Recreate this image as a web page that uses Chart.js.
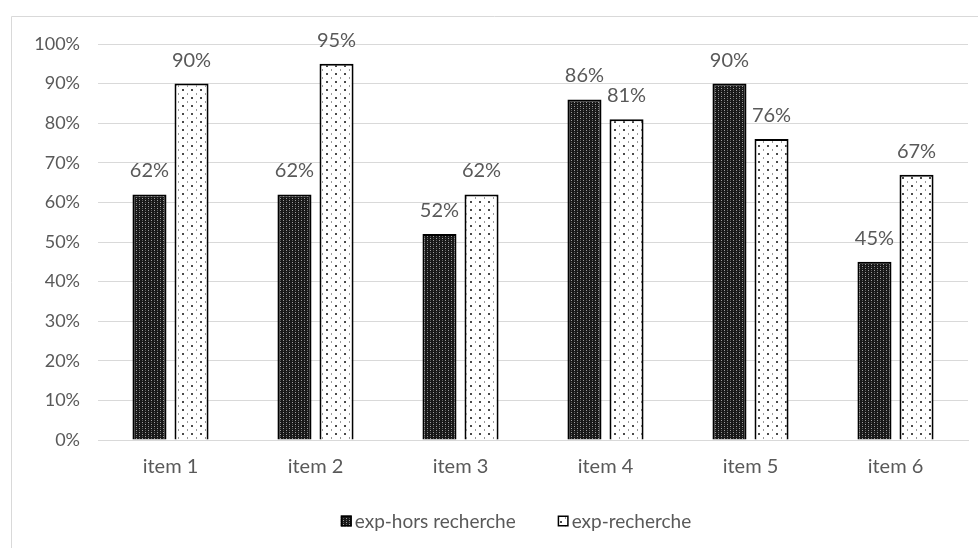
<!DOCTYPE html>
<html>
<head>
<meta charset="utf-8">
<script src="https://cdn.jsdelivr.net/npm/chart.js@4.4.1/dist/chart.umd.min.js"></script>
<style>
  html, body { margin: 0; padding: 0; background: #ffffff; }
  #wrap { position: relative; width: 978px; height: 548px; }
</style>
</head>
<body>
<div id="wrap"><canvas id="chart" width="978" height="548"></canvas></div>
<script>
// Survey results per item, in percent
const categories = ['item 1', 'item 2', 'item 3', 'item 4', 'item 5', 'item 6'];
const horsRecherche = [62, 62, 52, 86, 90, 45];
const recherche = [90, 95, 62, 81, 76, 67];
const seriesNames = ['exp-hors recherche', 'exp-recherche'];
const yTicks = [0, 10, 20, 30, 40, 50, 60, 70, 80, 90, 100];

const FONT = 'Lato, "Open Sans", sans-serif';
const TEXT = '#595959';

// Dense dark texture for the first series
function darkPattern() {
  const c = document.createElement('canvas');
  c.width = 6; c.height = 4;
  const g = c.getContext('2d');
  g.fillStyle = '#181818';
  g.fillRect(0, 0, 6, 4);
  g.fillStyle = '#a0a0a0';
  g.fillRect(1, 0, 1, 1);
  g.fillRect(4, 2, 1, 1);
  g.fillStyle = '#5a5a5a';
  g.fillRect(1, 2, 1, 1);
  g.fillRect(4, 0, 1, 1);
  return g.createPattern(c, 'repeat');
}

// Sparse dotted texture for the second series
function dotPattern() {
  const c = document.createElement('canvas');
  c.width = 9; c.height = 8;
  const g = c.getContext('2d');
  g.fillStyle = '#ffffff';
  g.fillRect(0, 0, 9, 8);
  g.fillStyle = '#4a4a4a';
  g.fillRect(2, 1, 2, 2);
  g.fillStyle = '#9a9a9a';
  g.fillRect(7, 5, 1, 2);
  return g.createPattern(c, 'repeat');
}

const fills = [darkPattern(), dotPattern()];

// Light frame around the whole figure
const framePlugin = {
  id: 'frame',
  beforeDraw(chart) {
    const ctx = chart.ctx;
    ctx.save();
    ctx.strokeStyle = '#d9d9d9';
    ctx.lineWidth = 1;
    ctx.beginPath();
    ctx.moveTo(11.5, chart.height);
    ctx.lineTo(11.5, 16.5);
    ctx.lineTo(chart.width, 16.5);
    ctx.stroke();
    ctx.restore();
  }
};

// Value labels above each bar
const valueLabels = {
  id: 'valueLabels',
  afterDatasetsDraw(chart) {
    const ctx = chart.ctx;
    ctx.save();
    ctx.font = '20px ' + FONT;
    ctx.fillStyle = TEXT;
    ctx.textAlign = 'center';
    ctx.textBaseline = 'alphabetic';
    chart.data.datasets.forEach((ds, i) => {
      chart.getDatasetMeta(i).data.forEach((bar, j) => {
        ctx.fillText(ds.data[j] + '%', bar.x, bar.y - 17);
      });
    });
    ctx.restore();
  }
};

// Legend row under the axis: swatch tight against its label
const legendRow = {
  id: 'legendRow',
  afterDraw(chart) {
    const ctx = chart.ctx;
    const box = 11, gap = 3, spacing = 42, cy = 521, centerX = 516;
    ctx.save();
    ctx.font = '19px ' + FONT;
    const widths = seriesNames.map(n => ctx.measureText(n).width);
    const total = widths.reduce((s, w) => s + box + gap + w, 0) + spacing * (seriesNames.length - 1);
    let x = centerX - total / 2;
    seriesNames.forEach((name, i) => {
      ctx.fillStyle = fills[i];
      ctx.fillRect(x, cy - box / 2, box, box);
      ctx.strokeStyle = '#000000';
      ctx.lineWidth = 1.5;
      ctx.strokeRect(x + 0.75, cy - box / 2 + 0.75, box - 1.5, box - 1.5);
      ctx.fillStyle = TEXT;
      ctx.textAlign = 'left';
      ctx.textBaseline = 'middle';
      ctx.fillText(name, x + box + gap, cy + 1);
      x += box + gap + widths[i] + spacing;
    });
    ctx.restore();
  }
};

new Chart(document.getElementById('chart'), {
  type: 'bar',
  data: {
    labels: categories,
    datasets: [
      {
        label: seriesNames[0],
        data: horsRecherche,
        backgroundColor: fills[0],
        borderColor: '#000000',
        borderWidth: 2,
        borderSkipped: 'start'
      },
      {
        label: seriesNames[1],
        data: recherche,
        backgroundColor: fills[1],
        borderColor: '#000000',
        borderWidth: 2,
        borderSkipped: 'start'
      }
    ]
  },
  options: {
    responsive: false,
    animation: false,
    devicePixelRatio: 1,
    categoryPercentage: 0.58,
    barPercentage: 0.81,
    layout: { padding: { left: 0, right: 10, top: 44, bottom: 54 } },
    plugins: {
      tooltip: { enabled: false },
      legend: { display: false }
    },
    scales: {
      x: {
        grid: { display: false, drawTicks: false },
        border: { display: true, color: '#d9d9d9', width: 1 },
        ticks: { color: TEXT, font: { family: FONT, size: 20 }, padding: 15 }
      },
      y: {
        min: 0,
        max: 100,
        afterFit(scale) { scale.width = 98; },
        afterBuildTicks(scale) { scale.ticks = yTicks.map(v => ({ value: v })); },
        grid: { color: '#d9d9d9', drawTicks: false },
        border: { display: false },
        ticks: {
          color: TEXT,
          font: { family: FONT, size: 18 },
          padding: 18,
          callback: v => v + '%'
        }
      }
    }
  },
  plugins: [framePlugin, valueLabels, legendRow]
});
</script>
</body>
</html>
